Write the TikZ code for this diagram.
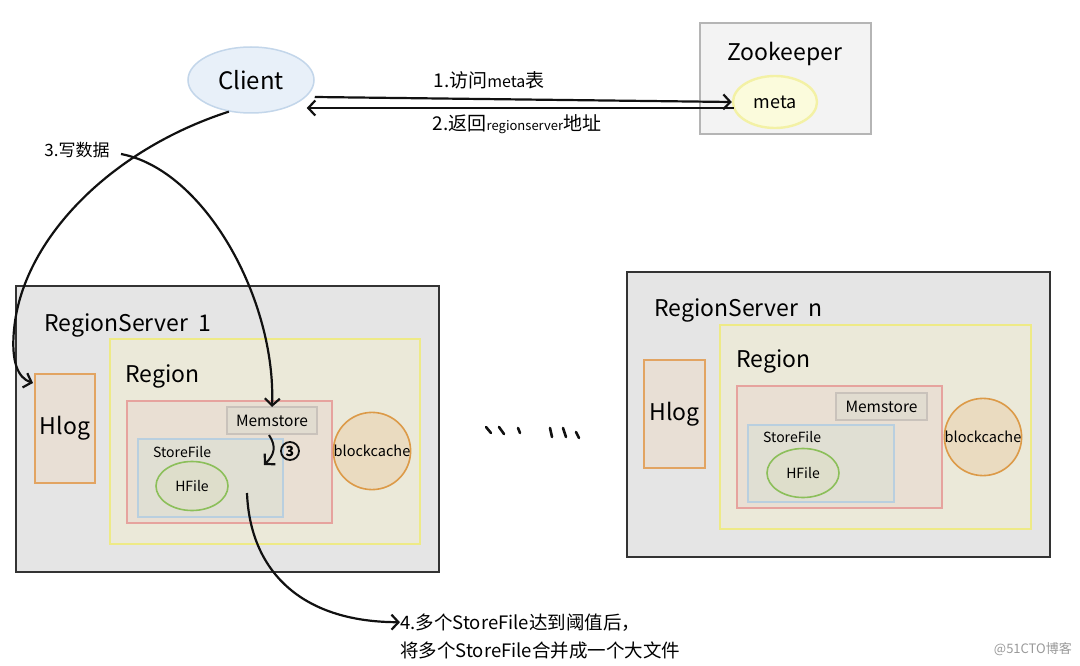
\documentclass[tikz,border=0pt]{standalone}
\usepackage{fontspec}
\setmainfont{Noto Sans CJK SC}
\usetikzlibrary{shapes.geometric,arrows.meta,calc}
\definecolor{rsfill}{HTML}{E5E5E5}
\definecolor{rsdraw}{HTML}{333333}
\definecolor{regfill}{HTML}{EBE9D9}
\definecolor{regdraw}{HTML}{EEEA86}
\definecolor{hlogfill}{HTML}{E8DFD5}
\definecolor{hlogdraw}{HTML}{E2A462}
\definecolor{stfill}{HTML}{E9DFD3}
\definecolor{stdraw}{HTML}{E6A39E}
\definecolor{memfill}{HTML}{E1DCD0}
\definecolor{memdraw}{HTML}{C9C2BB}
\definecolor{sffill}{HTML}{E0DFD3}
\definecolor{sfdraw}{HTML}{B9CFDF}
\definecolor{hffill}{HTML}{DEDECB}
\definecolor{hfdraw}{HTML}{8CBF5A}
\definecolor{bcfill}{HTML}{EADBC0}
\definecolor{bcdraw}{HTML}{DC9A48}
\definecolor{zkfill}{HTML}{F3F3F3}
\definecolor{zkdraw}{HTML}{B5B5B5}
\definecolor{metafill}{HTML}{FBFBDC}
\definecolor{metadraw}{HTML}{F3F1A5}
\definecolor{clfill}{HTML}{E8F0F9}
\definecolor{cldraw}{HTML}{C3D6EA}
\definecolor{ink}{HTML}{111111}
\definecolor{wm}{HTML}{9A9A9A}
\begin{document}
\begin{tikzpicture}[x=1pt,y=-1pt,
  box/.style={rectangle,inner sep=0pt,outer sep=0pt},
  rsbox/.style={box,fill=rsfill,draw=rsdraw,line width=1.5pt},
  regbox/.style={box,fill=regfill,draw=regdraw,line width=1.8pt},
  hlogbox/.style={box,fill=hlogfill,draw=hlogdraw,line width=1.6pt,font=\fontsize{23}{25}\selectfont},
  stbox/.style={box,fill=stfill,draw=stdraw,line width=1.5pt},
  membox/.style={box,fill=memfill,draw=memdraw,line width=1.5pt,font=\fontsize{15.5}{17}\selectfont},
  sfbox/.style={box,fill=sffill,draw=sfdraw,line width=1.5pt},
  hfell/.style={ellipse,inner sep=0pt,fill=hffill,draw=hfdraw,line width=1.6pt,minimum width=72pt,minimum height=49pt,font=\fontsize{14}{16}\selectfont},
  bccirc/.style={circle,inner sep=0pt,fill=bcfill,draw=bcdraw,line width=1.6pt,minimum size=76pt,font=\fontsize{14.5}{16}\selectfont},
  title/.style={anchor=base west,inner sep=0pt,font=\fontsize{23}{25}\selectfont},
  small/.style={anchor=base west,inner sep=0pt,font=\fontsize{14}{16}\selectfont},
  lbl/.style={inner sep=0pt,font=\fontsize{19}{21}\selectfont},
  arr/.style={draw=ink,line width=2.2pt,-{Straight Barb[length=7pt,width=15pt,line width=2.2pt]}},
  dashmark/.style={draw=ink,line width=2.6pt,line cap=round}]
\useasboundingbox (0,0) rectangle (1080,666);
\fill[white] (0,0) rectangle (1080,666);

% Client
\node[ellipse,fill=clfill,draw=cldraw,line width=1.5pt,minimum width=126pt,minimum height=66pt,inner sep=0pt,font=\fontsize{24}{26}\selectfont] (client) at (251,80) {Client};

% Zookeeper
\node[box,fill=zkfill,draw=zkdraw,line width=1.6pt,minimum width=171pt,minimum height=111pt] (zk) at (785.5,78.5) {};
\node[title] (zkt) at (727,61) {Zookeeper};
\node[ellipse,fill=metafill,draw=metadraw,line width=2.4pt,minimum width=84pt,minimum height=52pt,inner sep=0pt,font=\fontsize{18}{20}\selectfont] (meta) at (775,102) {meta};

% arrows 1 and 2
\draw[arr] ($(client.east)+(0,17)$) coordinate (c1) -- (meta.west);
\node[lbl] (l1) at (489,80) {1.访问{\fontsize{16}{18}\selectfont meta}表};
\draw[arr] ($(meta.west)+(2,6)$) coordinate (m2) -- ($(client.east)+(-8,28)$);
\node[lbl] (l2) at (517,124) {2.返回{\fontsize{13}{15}\selectfont regionserver}地址};

% RegionServer 1
\node[rsbox,minimum width=423pt,minimum height=286pt] (rs1) at (227.5,429) {};
\node[title] (rs1t) at (44,331) {RegionServer\ \ 1};
\node[hlogbox,minimum width=60pt,minimum height=109pt] (hlog1) at (65,428.5) {Hlog};
\node[regbox,minimum width=310pt,minimum height=205pt] (reg1) at (265,441.5) {};
\node[title] (reg1t) at (125,382) {Region};
\node[stbox,minimum width=205pt,minimum height=122pt] (st1) at (229.5,462) {};
\node[membox,minimum width=90pt,minimum height=27pt] (mem1) at (272,420.5) {Memstore};
\node[sfbox,minimum width=145pt,minimum height=78pt] (sf1) at (210.5,478) {};
\node[small] (sf1t) at (153,457) {StoreFile};
\node[hfell] (hf1) at (192,486) {HFile};
\node[bccirc] (bc1) at (372,451) {blockcache};

% RegionServer n
\node[rsbox,minimum width=423pt,minimum height=285pt] (rsn) at (838.5,414.5) {};
\node[title] (rsnt) at (654,316) {RegionServer\ \ n};
\node[hlogbox,minimum width=61pt,minimum height=108pt] (hlogn) at (674.5,414) {Hlog};
\node[regbox,minimum width=311pt,minimum height=204pt] (regn) at (875.5,427) {};
\node[title] (regnt) at (736,367) {Region};
\node[stbox,minimum width=205pt,minimum height=122pt] (stn) at (839.5,447) {};
\node[membox,minimum width=91pt,minimum height=27pt] (memn) at (881.5,406.5) {Memstore};
\node[sfbox,minimum width=146pt,minimum height=77pt] (sfn) at (821,463.5) {};
\node[small] (sfnt) at (763,442) {StoreFile};
\node[hfell] (hfn) at (803,473) {HFile};
\node[bccirc] (bcn) at (983,437) {blockcache};

% 3. write data
\node[inner sep=0pt,font=\fontsize{17}{19}\selectfont] (l3) at (77,150) {3.写数据};
\coordinate (w0) at (121,154);
\draw[arr] (client.-125) .. controls (110,150) and (22,240) .. (14,330) .. controls (11,362) and (18,378) .. ($(hlog1.north west)+(-2,9)$);
\draw[arr] (w0) .. controls (205,170) and (276,300) .. (mem1.north);

% flush arrow and circled 3
\draw[arr,line width=2pt] ($(mem1.south)+(-3,1)$) .. controls (277,447) and (274,455) .. (264,465);
\node[circle,draw=ink,line width=1.8pt,inner sep=0pt,minimum size=18pt,font=\bfseries\fontsize{14}{15}\selectfont] (c3) at (290,451) {3};

% 4. compaction
\node[anchor=base west,inner sep=0pt,font=\fontsize{18.5}{20}\selectfont] (l4) at (400,629) {4.多个StoreFile达到阈值后，};
\node[anchor=base west,inner sep=0pt,font=\fontsize{18.5}{20}\selectfont] (l4b) at (400,657) {将多个StoreFile合并成一个大文件};
\draw[arr] ($(sf1.south east)+(-36,-24)$) .. controls (250,570) and (300,622) .. (l4.west);

% dots between servers
\draw[dashmark] (486,427) -- (491,433);
\draw[dashmark] (499,427) -- (504,434);
\draw[dashmark] (518,428) -- (520,433);
\draw[dashmark] (550,428) -- (552,437);
\draw[dashmark] (563,428) -- (566,437);
\draw[dashmark] (576,432) -- (579,438);

% watermark
\node[anchor=base east,inner sep=0pt,text=wm,font=\fontsize{13}{15}\selectfont] (wmk) at (1072,653) {@51CTO博客};
\end{tikzpicture}
\end{document}
